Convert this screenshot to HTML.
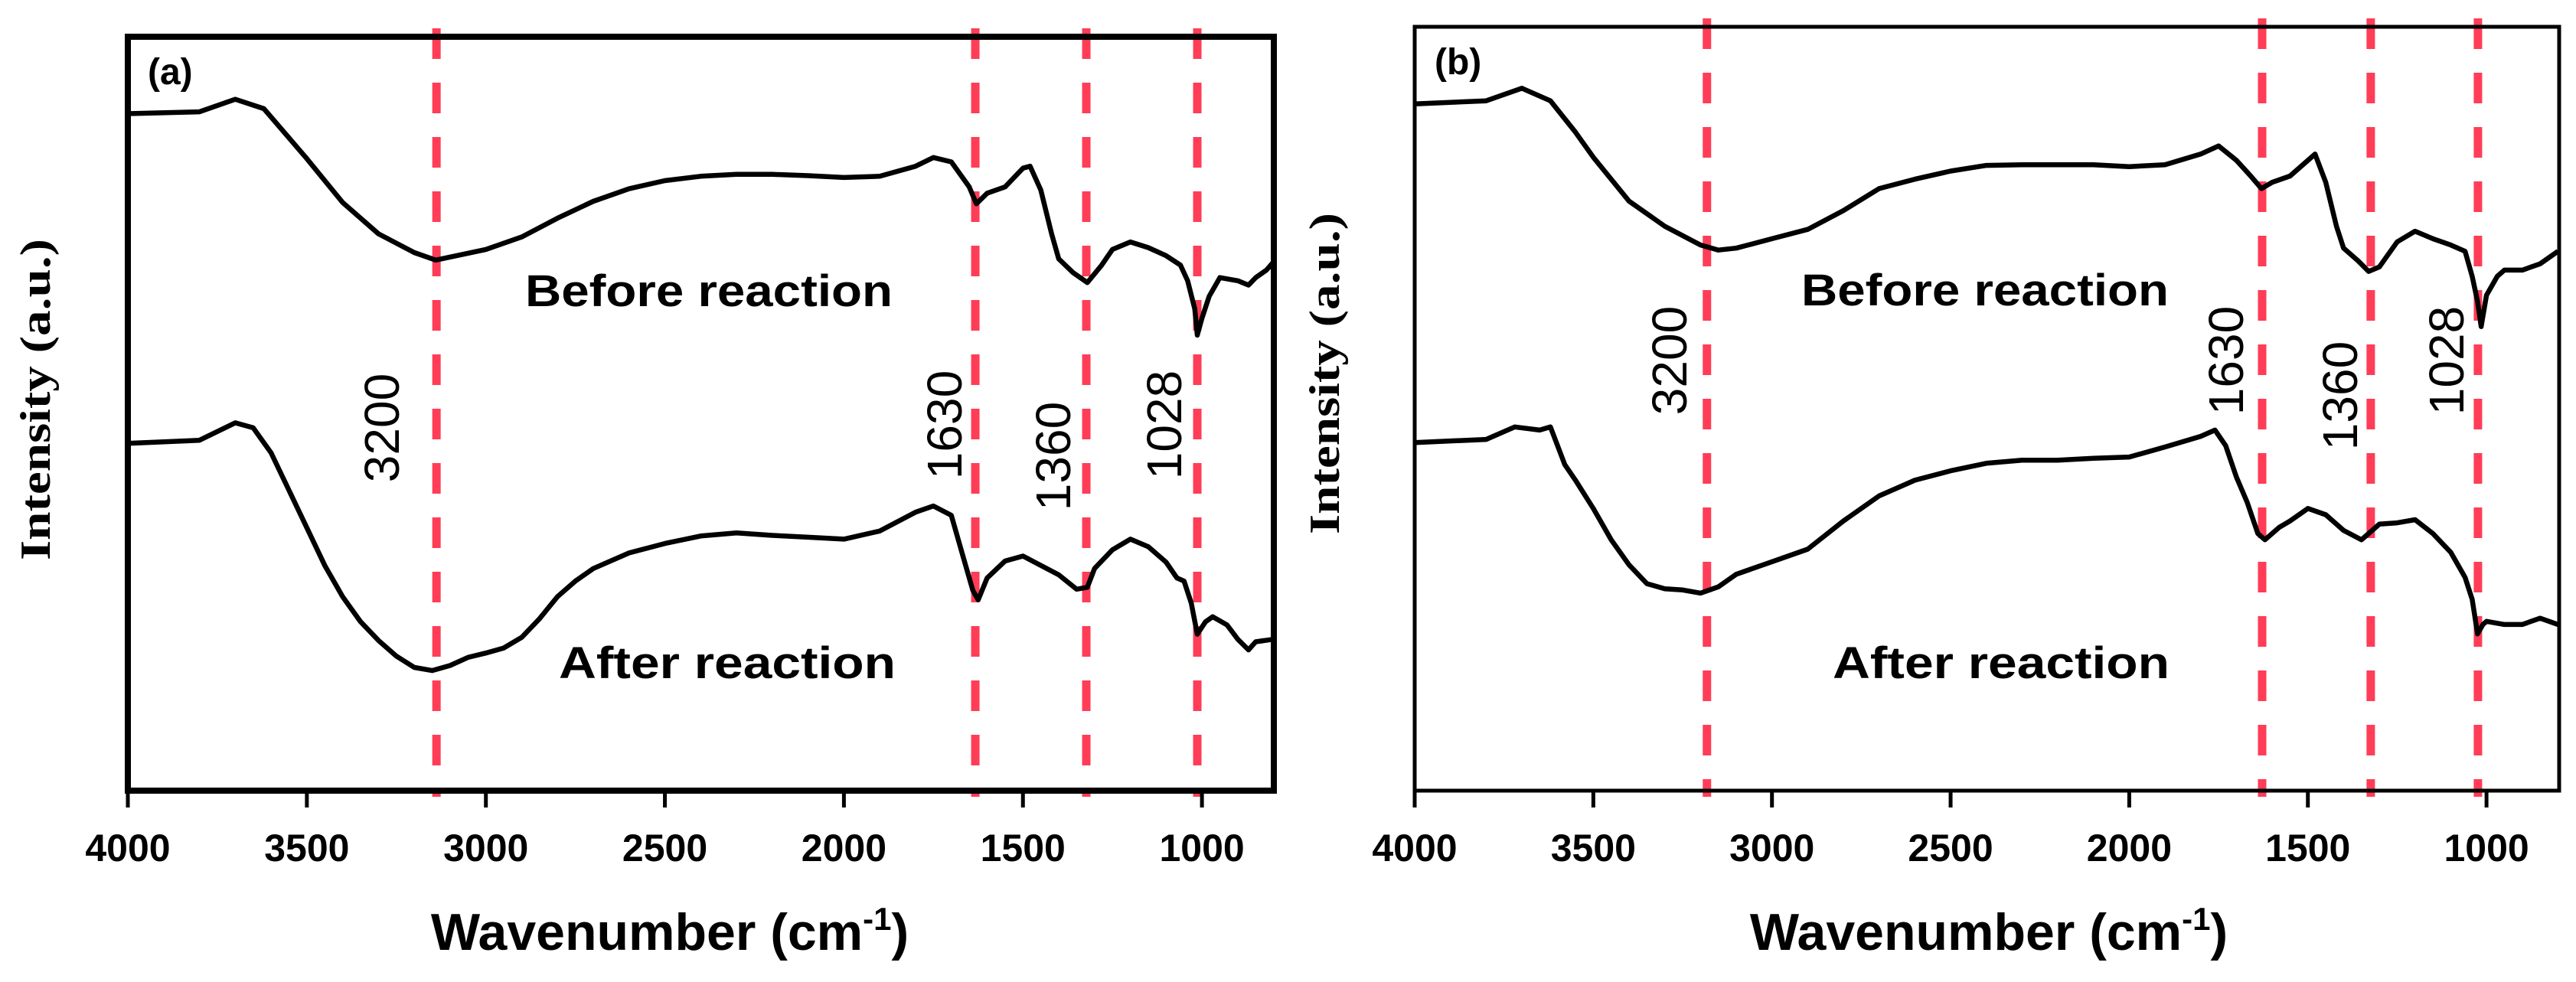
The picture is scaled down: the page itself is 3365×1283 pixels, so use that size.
<!DOCTYPE html>
<html><head><meta charset="utf-8"><style>
html,body{margin:0;padding:0;background:#fff;}
svg{display:block;}
</style></head><body>
<svg id="fig" width="3365" height="1283" viewBox="0 0 3365 1283" xmlns="http://www.w3.org/2000/svg"></svg>
<script>
// ---- data (wavenumber in cm-1, intensity in a.u.) ----
const tickValues = [4000, 3500, 3000, 2500, 2000, 1500, 1000];
const peakLines = [3200, 1630, 1360, 1028];
const peakLinePosA = [3138, 1633, 1323, 1013];
const peakLinePosB = [3182, 1628, 1324, 1024];

const wnA_before = [4000,3800,3700,3620,3500,3400,3300,3200,3140,3000,2900,2800,2700,2600,2500,2400,2300,2200,2100,2000,1900,1800,1750,1700,1650,1630,1600,1550,1500,1480,1450,1420,1400,1360,1320,1280,1250,1200,1150,1100,1060,1040,1020,1013,1000,980,950,900,870,850,820,800];
const intA_before = [1122,1125,1145,1130,1050,980,930,900,888,905,925,955,982,1002,1015,1022,1025,1025,1023,1020,1022,1038,1052,1045,1005,978,995,1005,1035,1038,1000,930,890,868,852,880,905,917,908,895,880,855,810,768,795,830,860,855,848,860,872,885];
const wnA_after = [4000,3800,3700,3650,3600,3550,3500,3450,3400,3350,3300,3250,3200,3150,3100,3050,3000,2950,2900,2850,2800,2750,2700,2600,2500,2400,2300,2200,2100,2000,1900,1800,1750,1700,1670,1640,1625,1600,1550,1500,1450,1400,1350,1320,1300,1250,1200,1150,1100,1070,1050,1030,1013,990,970,930,900,870,850,800];
const intA_after = [595,600,628,620,580,520,460,400,350,310,280,255,237,232,240,253,260,268,285,315,350,375,395,420,435,447,452,448,445,442,455,485,495,480,420,360,345,380,407,415,400,385,362,365,395,425,442,430,405,380,375,340,290,310,318,305,282,265,278,282];

const wnB_before = [4000,3800,3700,3620,3550,3500,3400,3300,3200,3150,3100,3000,2900,2800,2700,2600,2500,2400,2300,2200,2100,2000,1900,1800,1750,1700,1660,1630,1600,1550,1500,1480,1450,1420,1400,1360,1330,1300,1250,1200,1150,1100,1060,1040,1025,1015,1000,970,950,900,850,800];
const intB_before = [1135,1140,1160,1140,1090,1050,980,940,910,902,905,920,935,965,1000,1015,1028,1037,1038,1038,1038,1035,1038,1055,1068,1045,1020,1000,1010,1020,1045,1055,1010,940,905,885,868,875,915,932,920,910,900,860,820,780,830,860,870,870,880,900];
const wnB_after = [4000,3800,3720,3650,3620,3580,3550,3500,3450,3400,3350,3300,3250,3200,3150,3100,3000,2900,2800,2700,2600,2500,2400,2300,2200,2100,2000,1900,1800,1760,1730,1700,1670,1640,1620,1580,1550,1500,1450,1400,1350,1320,1300,1250,1200,1150,1100,1060,1040,1025,1010,1000,950,900,850,800];
const intB_after = [595,600,620,615,620,560,535,490,440,400,370,362,360,355,365,385,405,425,470,510,535,550,562,567,567,570,572,588,605,615,590,540,500,450,440,460,470,490,480,455,440,455,465,467,472,450,420,380,345,290,305,310,305,305,315,305];

const svg = document.getElementById('fig');
const NS = 'http://www.w3.org/2000/svg';
function mk(tag, attrs, parent){const e=document.createElementNS(NS,tag);for(const k in attrs)e.setAttribute(k,attrs[k]);(parent||svg).appendChild(e);return e;}

function panel(cfg){
  const g = mk('g',{});
  
  
  const xs = v => cfg.x4000 + (4000 - v) * cfg.pxPerCm;
  const ys = v => cfg.bottom - (v - 40) * (cfg.bottom - cfg.top) / (cfg.iTop - 40);
  cfg.peaks.forEach((p,i)=>{
    const l = mk('line',{x1:xs(p),x2:xs(p),y1:cfg.top-11,y2:cfg.bottom+8,stroke:'#ff3d57','stroke-width':11,'stroke-dasharray':'40 31'},g);
    
    
  });
  [[cfg.wb,cfg.ib,'before-reaction-spectrum'],[cfg.wa,cfg.ia,'after-reaction-spectrum']].forEach(s=>{
    const d = s[0].map((w,i)=>(i?'L':'M')+xs(w).toFixed(1)+' '+ys(s[1][i]).toFixed(1)).join(' ');
    const p = mk('path',{d:d,fill:'none',stroke:'#000','stroke-width':6.5,'stroke-linejoin':'round'},g);
    
    
  });
  const r = mk('rect',{x:cfg.x4000,y:cfg.top,width:cfg.right-cfg.x4000,height:cfg.bottom-cfg.top,fill:'none',stroke:'#000','stroke-width':cfg.bw},g);
  
  
  tickValues.forEach(v=>{
    const t = mk('line',{x1:xs(v),x2:xs(v),y1:cfg.bottom,y2:cfg.bottom+22,stroke:'#000','stroke-width':5},g);
    
    
    const tl = mk('text',{x:xs(v),y:cfg.bottom+92,'text-anchor':'middle','font-family':'Liberation Sans, sans-serif','font-weight':'bold','font-size':50},g);
    tl.textContent = v;
    
    
  });
  const pl = mk('text',{x:cfg.x4000+26,y:cfg.top+62,'font-family':'Liberation Sans, sans-serif','font-weight':'bold','font-size':48},g);
  pl.textContent = cfg.label;
  
  
  const bt = mk('text',{x:cfg.beforeX,y:cfg.beforeY,'text-anchor':'middle','font-family':'Liberation Sans, sans-serif','font-weight':'bold','font-size':58,textLength:480,lengthAdjust:'spacingAndGlyphs'},g);
  bt.textContent = 'Before reaction';
  
  
  const at = mk('text',{x:cfg.afterX,y:cfg.afterY,'text-anchor':'middle','font-family':'Liberation Sans, sans-serif','font-weight':'bold','font-size':58,textLength:440,lengthAdjust:'spacingAndGlyphs'},g);
  at.textContent = 'After reaction';
  
  
  cfg.numPos.forEach((np,i)=>{
    const t = mk('text',{x:0,y:0,transform:`translate(${np[0]},${np[1]}) rotate(-90)`,'text-anchor':'middle','dominant-baseline':'central','font-family':'Liberation Sans, sans-serif','font-size':64},g);
    t.textContent = peakLines[i];
    
    
  });
  const yt = mk('text',{x:0,y:0,transform:`translate(${cfg.yTitleX},${cfg.yTitleY}) rotate(-90)`,'text-anchor':'middle','dominant-baseline':'central','font-family':'Liberation Serif, serif','font-weight':'bold','font-size':56,textLength:420,lengthAdjust:'spacingAndGlyphs'},g);
  yt.textContent = 'Intensity (a.u.)';
  
  
  const xt = mk('text',{x:cfg.xTitleX,y:cfg.bottom+208,'text-anchor':'middle','font-family':'Liberation Sans, sans-serif','font-weight':'bold','font-size':68},g);
  
  
  const t1 = mk('tspan',{},xt); t1.textContent='Wavenumber (cm';
  const t2 = mk('tspan',{dy:-26,'font-size':42},xt); t2.textContent='-1';
  const t3 = mk('tspan',{dy:26},xt); t3.textContent=')';
}

panel({name:'panel-a',label:'(a)',x4000:167,pxPerCm:0.4677,right:1664,top:48,bottom:1033,iTop:1245,bw:8,
  peaks:peakLinePosA,wb:wnA_before,ib:intA_before,wa:wnA_after,ia:intA_after,
  beforeX:926,beforeY:400,afterX:950,afterY:886,
  numPos:[[499,559],[1234,555],[1376,596],[1521,555]],yTitleX:47,yTitleY:522,xTitleX:875});
panel({name:'panel-b',label:'(b)',x4000:1848,pxPerCm:0.4667,right:3343,top:35,bottom:1033,iTop:1258,bw:5,
  peaks:peakLinePosB,wb:wnB_before,ib:intB_before,wa:wnB_after,ia:intB_after,
  beforeX:2593,beforeY:399,afterX:2614,afterY:886,
  numPos:[[2181,471],[2908,471],[3057,517],[3196,471]],yTitleX:1731,yTitleY:488,xTitleX:2598});
</script>
</body></html>
